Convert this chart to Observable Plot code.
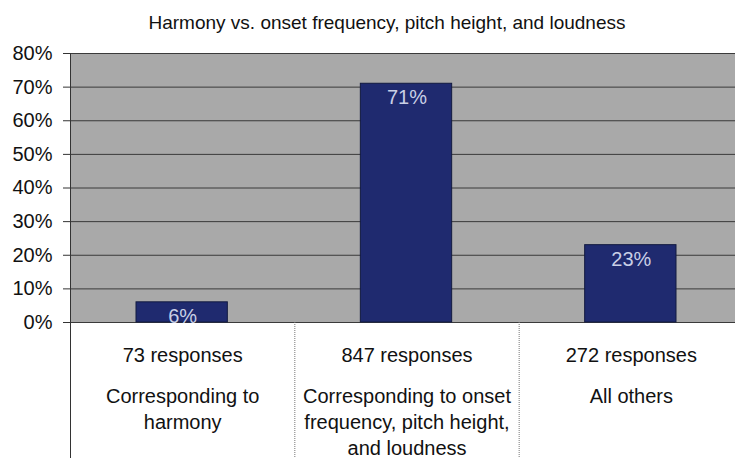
<!DOCTYPE html>
<html>
<head>
<meta charset="utf-8">
<script src="https://cdn.jsdelivr.net/npm/d3@7"></script>
<script src="https://cdn.jsdelivr.net/npm/@observablehq/plot@0.6"></script>
<style>
  body { margin: 0; background: #fff; overflow: hidden; }
  #title { font-family: "Liberation Sans", Arial, sans-serif; font-size: 19px; color: #111; text-align: center; width: 735px; padding-left: 39px; box-sizing: border-box; height: 30px; line-height: 45px; white-space: nowrap; }
  svg { overflow: visible; }
</style>
</head>
<body>
<div id="title">Harmony vs. onset frequency, pitch height, and loudness</div>
<div id="chart"></div>
<script>
const categories = ["harmony", "onset", "others"];
const values = [0.06, 0.71, 0.23];
const valueLabels = ["6%", "71%", "23%"];
const responseLabels = ["73 responses", "847 responses", "272 responses"];
const groupLabels = ["Corresponding to\nharmony", "Corresponding to onset\nfrequency, pitch height,\nand loudness", "All others"];
const yTicks = [0, 0.1, 0.2, 0.3, 0.4, 0.5, 0.6, 0.7, 0.8];

const data = categories.map((c, i) => ({
  i, c, v: values[i], label: valueLabels[i], resp: responseLabels[i], group: groupLabels[i]
}));

const font = "Liberation Sans, Arial, sans-serif";

const chart = Plot.plot({
  width: 735,
  height: 428,
  marginLeft: 70,
  marginRight: -8,
  marginTop: 23,
  marginBottom: 136,
  style: { fontFamily: font, fontSize: "20px", color: "#111", overflow: "visible" },
  x: { type: "linear", domain: [0, 3], axis: null },
  y: { domain: [0, 0.8], axis: null },
  marks: [
    Plot.rect([0], { x1: 0, x2: 3, y1: 0, y2: 0.8, fill: "#a9a9a9" }),
    Plot.ruleY(yTicks, { stroke: "#3a3a3a", strokeWidth: 1 }),
    Plot.rect(data, { x1: "i", x2: d => d.i + 1, y1: 0, y2: "v", fill: "#1f2a6f", stroke: "#121a40", strokeWidth: 1, insetLeft: 66, insetRight: 67 }),
    Plot.text(data, { x: d => d.i + 0.5, y: "v", text: "label", fill: "#c9cfe6", dy: 14, fontSize: 20, fontFamily: font }),
    Plot.ruleX(data, { x: "i", y1: 0, y2: -0.41, stroke: "#777", strokeWidth: 1, strokeDasharray: "1,1" }),
    Plot.text(data, { x: d => d.i + 0.5, y: 0, text: "resp", dy: 33, fontSize: 20, fill: "#111", fontFamily: font }),
    Plot.text(data, { x: d => d.i + 0.5, y: 0, text: "group", dy: 62, lineAnchor: "top", lineHeight: 1.3, fontSize: 20, fill: "#111", fontFamily: font }),
    Plot.axisY({ ticks: yTicks, tickFormat: d => Math.round(d * 100) + "%", tickSize: 7, tickPadding: 11, fontSize: 20, stroke: "#333", fill: "#111", label: null }),
    Plot.ruleX([0], { y1: -0.41, y2: 0.8, stroke: "#333", strokeWidth: 1 })
  ]
});
document.getElementById("chart").appendChild(chart);
</script>
</body>
</html>
